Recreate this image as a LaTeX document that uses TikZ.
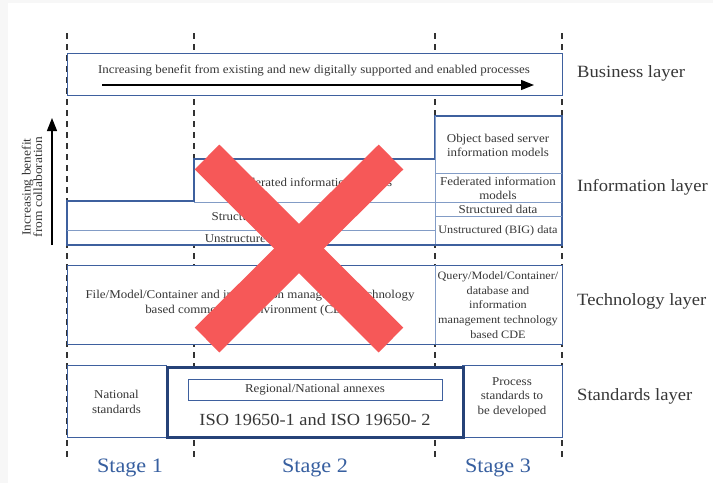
\documentclass[tikz,border=0pt]{standalone}
\usepackage{fontspec}
\setmainfont{Liberation Serif}[FakeStretch=1.08]
\usetikzlibrary{arrows.meta}
\definecolor{outerblue}{RGB}{62,96,158}
\definecolor{innerblue}{RGB}{130,156,198}
\definecolor{isoblue}{RGB}{38,66,120}
\definecolor{txtgray}{RGB}{55,55,55}
\definecolor{stageblue}{RGB}{55,95,160}
\definecolor{xred}{RGB}{246,88,88}
\definecolor{dashgray}{RGB}{50,50,50}
\tikzset{
  dashline/.style={draw=dashgray, line width=1.4pt, dash pattern=on 6pt off 5pt},
  box/.style={draw=outerblue, line width=1.2pt, fill=white, inner sep=0pt, anchor=north west},
  divider/.style={draw=innerblue, line width=1pt},
  small/.style={text=txtgray, font=\fontsize{12}{15}\selectfont, align=center, inner sep=0pt},
  cell/.style={text=txtgray, font=\fontsize{12}{14}\selectfont, align=center, inner sep=0pt},
  narrow/.style={text=txtgray, font=\fontsize{11.3}{14.7}\selectfont, align=center, inner sep=0pt},
  layerlabel/.style={text=txtgray, font=\fontsize{17.2}{19}\selectfont, anchor=west, inner sep=0pt},
  stagelabel/.style={text=stageblue, font=\fontsize{20.5}{22}\selectfont, inner sep=0pt},
}
\begin{document}
\begin{tikzpicture}[x=1pt,y=-1pt]
\useasboundingbox (0,0) rectangle (713,483);
\fill[white] (0,0) rectangle (713,483);
\fill[black!3] (0,0) rectangle (8,483);
\fill[black!3] (0,0) rectangle (713,3);

% stage boundaries
\coordinate (d1t) at (67,33);  \coordinate (d1b) at (67,457);
\coordinate (d2t) at (194,33); \coordinate (d2b) at (194,457);
\coordinate (d3t) at (435,33); \coordinate (d3b) at (435,457);
\coordinate (d4t) at (562,33); \coordinate (d4b) at (562,457);
\draw[dashline] (d1t) -- (d1b);
\draw[dashline] (d2t) -- (d2b);
\draw[dashline] (d3t) -- (d3b);
\draw[dashline] (d4t) -- (d4b);

% business layer
\node[box, minimum width=495pt, minimum height=42pt] (bus) at (67,53) {};
\node[small] (bustext) at (314,71) {Increasing benefit from existing and new digitally supported and enabled processes};
\coordinate (ba) at (102,85);
\coordinate (bb) at (534,85);
\draw[line width=1.3pt, -{Triangle[length=13pt, width=10pt]}] (ba) -- (bb);
\node[layerlabel] (buslabel) at (577,73) {Business layer};

% information layer
\draw[draw=outerblue, line width=1.2pt, fill=white]
  (67,245) -- (67,201) -- (194,201) -- (194,159) -- (435,159) -- (435,116)
  -- (562,116) -- (562,245) -- cycle;
\draw[divider] (194,202) -- (435,202);
\draw[divider] (67,230) -- (435,230);
\draw[divider] (435,116) -- (435,245);
\draw[divider] (435,173) -- (562,173);
\draw[divider] (435,202) -- (562,202);
\draw[divider] (435,216) -- (562,216);
\draw[draw=outerblue, line width=1.2pt] (67,245) -- (562,245);
\node[small] (fed2) at (314,182) {Federated information models};
\node[small] (struct) at (251,216) {Structured data};
\node[small] (unstruct) at (251,238) {Unstructured data};
\node[cell] (obj) at (498,145) {Object based server\\information models};
\node[cell] (fed3) at (498,188) {Federated information\\models};
\node[cell] (struct3) at (498,209) {Structured data};
\node[narrow] (unstruct3) at (498,231) {Unstructured (BIG) data};
\node[layerlabel] (infolabel) at (577,187) {Information layer};

% collaboration arrow
\coordinate (ca) at (52,245);
\coordinate (cb) at (52,118);
\draw[line width=1.3pt, -{Triangle[length=13pt, width=10pt]}] (ca) -- (cb);
\node[small, rotate=90, font=\fontsize{12.5}{11.5}\selectfont] (collab) at (32,187) {Increasing benefit\\from collaboration};

% technology layer
\node[box, minimum width=495pt, minimum height=79pt] (tech) at (67,265) {};
\draw[divider] (435,265) -- (435,344);
\node[small] (cde2) at (250,303) {File/Model/Container and information management technology\\based common data environment (CDE)};
\node[narrow] (cde3) at (498,305) {Query/Model/Container/\\database and\\information\\management technology\\based CDE};
\node[layerlabel] (techlabel) at (577,301) {Technology layer};

% standards layer
\node[box, minimum width=99pt, minimum height=72pt] (nat) at (67,365) {};
\node[small] (nattext) at (116.5,402) {National\\standards};
\node[box, minimum width=100pt, minimum height=72pt] (proc) at (462,365) {};
\node[small, font=\fontsize{12}{14.5}\selectfont] (proctext) at (512,397) {Process\\standards to\\be developed};
\node[box, draw=isoblue, line width=3pt, minimum width=296pt, minimum height=70pt] (iso) at (166,366) {};
\node[box, draw=outerblue, line width=1pt, minimum width=254pt, minimum height=21pt] (annex) at (188,379) {};
\node[small] (annextext) at (315,390) {Regional/National annexes};
\node[small, font=\fontsize{17}{19}\selectfont] (isotext) at (315,420) {ISO 19650-1 and ISO 19650- 2};
\node[layerlabel] (stdlabel) at (577,396) {Standards layer};

% stages
\node[stagelabel] (s1) at (130,468) {Stage 1};
\node[stagelabel] (s2) at (315,468) {Stage 2};
\node[stagelabel] (s3) at (498,468) {Stage 3};

% red cross
\coordinate (xa) at (207,157);
\coordinate (xb) at (391,340);
\coordinate (xc) at (391,157);
\coordinate (xd) at (207,340);
\draw[xred, line width=35pt] (xa) -- (xb);
\draw[xred, line width=35pt] (xc) -- (xd);
\end{tikzpicture}
\end{document}
